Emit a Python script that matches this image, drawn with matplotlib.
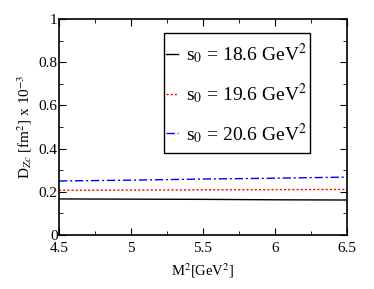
import matplotlib
matplotlib.use("Agg")
import matplotlib.pyplot as plt
from matplotlib.patches import Rectangle
import numpy as np

plt.rcParams['font.family'] = ['Liberation Serif', 'DejaVu Serif']
plt.rcParams['mathtext.fontset'] = 'stix'

# Borel mass range and D_Zc values for three thresholds
m2 = [4.5, 5.0, 5.5, 6.0, 6.5]
d_186 = [0.167, 0.166, 0.165, 0.163, 0.162]
d_196 = [0.207, 0.208, 0.209, 0.210, 0.211]
d_206 = [0.250, 0.254, 0.259, 0.263, 0.268]
labels = [r"s$_0$ = 18.6 GeV$^2$", r"s$_0$ = 19.6 GeV$^2$", r"s$_0$ = 20.6 GeV$^2$"]

fig = plt.figure(figsize=(3.74, 2.89), dpi=100)
ax = fig.add_axes([59/374, 54/289, 288/374, 216/289])

ax.plot(m2, d_186, color="black", lw=1.0, ls="-", label=labels[0])
ax.plot(m2, d_196, color="red", lw=1.0, ls=(0, (1.5, 1.5)), label=labels[1])
ax.plot(m2, d_206, color="blue", lw=1.0, ls=(0, (6, 2, 1.5, 2)), label=labels[2])

ax.set_xlim(4.5, 6.5)
ax.set_ylim(0, 1)
ax.set_xticks([4.5, 5, 5.5, 6, 6.5])
ax.set_xticklabels(["4.5", "5", "5.5", "6", "6.5"])
ax.set_yticks([0, 0.2, 0.4, 0.6, 0.8, 1])
ax.set_yticklabels(["0", "0.2", "0.4", "0.6", "0.8", "1"])
ax.set_xticks(np.arange(4.5, 6.51, 0.25), minor=True)
ax.set_yticks(np.arange(0, 1.01, 0.1), minor=True)
ax.tick_params(which="both", direction="in", top=True, right=True, labelsize=11)
ax.tick_params(axis="y", pad=1)
ax.tick_params(axis="x", pad=5)
ax.tick_params(which="major", length=5)
ax.tick_params(which="minor", length=3)
for sp in ax.spines.values():
    sp.set_linewidth(1.2)

ax.set_xlabel(r"M$^2$[GeV$^2$]", fontsize=10.5, labelpad=5)
ax.set_ylabel(r"D$_{Zc}$ [fm$^2$] x 10$^{-3}$", fontsize=11, labelpad=3)

# legend box drawn separately so the padding matches the original
ax.add_patch(Rectangle((0.3646, 0.3796), 0.507, 0.555, transform=ax.transAxes,
                       fill=False, edgecolor="black", lw=1.0, zorder=4))
leg = ax.legend(loc="upper left", bbox_to_anchor=(0.372, 0.895), borderaxespad=0,
                fontsize=14, frameon=False,
                handlelength=0.62, handletextpad=0.41, labelspacing=0.76,
                borderpad=0)

fig.savefig("out.png", dpi=100)
